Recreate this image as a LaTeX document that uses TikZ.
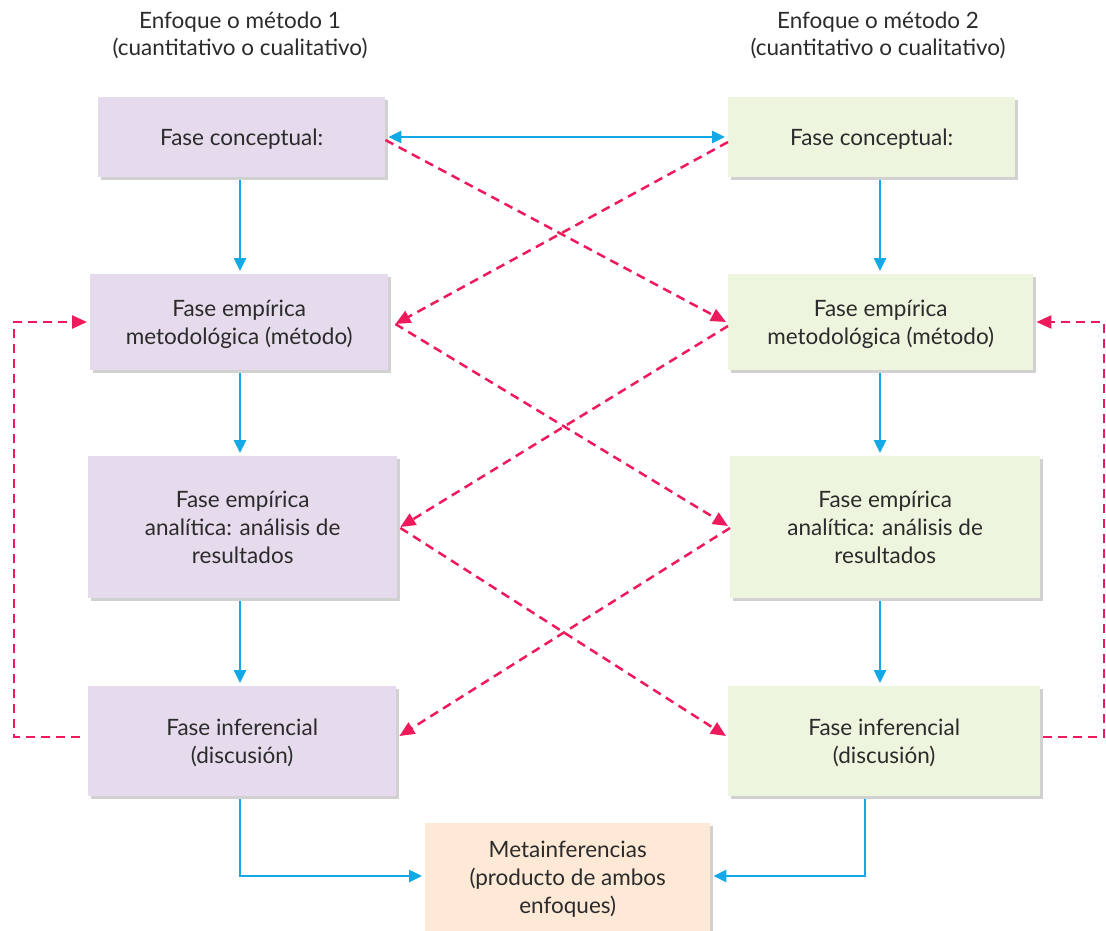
\documentclass[tikz,border=0pt]{standalone}
\usepackage{fontspec}
\setmainfont{Lato}
\usetikzlibrary{arrows.meta,shadows}
\definecolor{purp}{HTML}{E6DBEC}
\definecolor{grn}{HTML}{EEF5DE}
\definecolor{orng}{HTML}{FDE9D6}
\definecolor{blu}{HTML}{13A9E6}
\definecolor{rd}{HTML}{EE1A5C}
\definecolor{txt}{HTML}{2B2B2B}
\tikzset{
  box/.style={anchor=north west,inner sep=0pt,align=center,text=txt,
    font=\fontsize{22.5}{28}\selectfont,text depth=0pt,
    drop shadow={shadow xshift=3pt,shadow yshift=-3pt,opacity=0.3,fill=black!60}},
  hdr/.style={align=center,text=txt,font=\fontsize{22.5}{27}\selectfont},
  bl/.style={draw=blu,line width=2.5pt,-{Triangle[length=13pt,width=12pt]}},
  bl2/.style={draw=blu,line width=2.5pt,{Triangle[length=13pt,width=12pt]}-{Triangle[length=13pt,width=12pt]}},
  rdd/.style={draw=rd,line width=2.5pt,dash pattern=on 9pt off 6pt,-{Triangle[length=15pt,width=13pt]}},
}
\begin{document}
\begin{tikzpicture}[x=1pt,y=-1pt]
\useasboundingbox (0,0) rectangle (1106,931);
% headers
\node[hdr] (h1) at (240,35) {Enfoque o método 1\\(cuantitativo o cualitativo)};
\node[hdr] (h2) at (878,35) {Enfoque o método 2\\(cuantitativo o cualitativo)};
% left boxes
\node[box,fill=purp,minimum width=287pt,minimum height=80pt] (L1) at (98,97) {Fase conceptual:};
\node[box,fill=purp,minimum width=298pt,minimum height=96pt] (L2) at (90,274) {Fase empírica\\metodológica (método)};
\node[box,fill=purp,minimum width=309pt,minimum height=142pt] (L3) at (88,456) {Fase empírica\\analítica: análisis de\\resultados};
\node[box,fill=purp,minimum width=308pt,minimum height=110pt] (L4) at (88,686) {Fase inferencial\\(discusión)};
% right boxes
\node[box,fill=grn,minimum width=287pt,minimum height=80pt] (R1) at (728,97) {Fase conceptual:};
\node[box,fill=grn,minimum width=305pt,minimum height=96pt] (R2) at (728,274) {Fase empírica\\metodológica (método)};
\node[box,fill=grn,minimum width=310pt,minimum height=142pt] (R3) at (730,456) {Fase empírica\\analítica: análisis de\\resultados};
\node[box,fill=grn,minimum width=312pt,minimum height=110pt] (R4) at (728,686) {Fase inferencial\\(discusión)};
% bottom
\node[box,fill=orng,minimum width=285pt,minimum height=115pt] (M) at (425,823) {};
\node[hdr,anchor=north,font=\fontsize{22.5}{28}\selectfont] (Mt) at (M.north) [yshift=-15pt] {Metainferencias\\(producto de ambos\\enfoques)};
% blue vertical arrows
\draw[bl] ([yshift=-3pt]L1.south -| 240,0) -- ([yshift=3pt]L2.north -| 240,0);
\draw[bl] ([yshift=-3pt]L2.south -| 240,0) -- ([yshift=3pt]L3.north -| 240,0);
\draw[bl] ([yshift=-3pt]L3.south -| 240,0) -- ([yshift=3pt]L4.north -| 240,0);
\draw[bl] ([yshift=-3pt]R1.south -| 880,0) -- ([yshift=3pt]R2.north -| 880,0);
\draw[bl] ([yshift=-3pt]R2.south -| 880,0) -- ([yshift=3pt]R3.north -| 880,0);
\draw[bl] ([yshift=-3pt]R3.south -| 880,0) -- ([yshift=3pt]R4.north -| 880,0);
% double arrow
\draw[bl2] ([xshift=3pt]L1.east |- 0,137) -- ([xshift=-3pt]R1.west |- 0,137);
% bottom connectors
\draw[bl] ([yshift=-3pt]L4.south -| 240,0) |- ([xshift=-3pt]M.west |- 0,876);
\draw[bl] ([yshift=-3pt]R4.south -| 865,0) |- ([xshift=3pt]M.east |- 0,876);
% red dashed crosses
\draw[rdd] (L1.east |- 0,140) -- ([xshift=-2pt]R2.west |- 0,322);
\draw[rdd] (R1.west |- 0,142) -- ([xshift=7pt]L2.east |- 0,324);
\draw[rdd] ([xshift=7pt]L2.east |- 0,324) -- ([xshift=-2pt]R3.west |- 0,526);
\draw[rdd] (R2.west |- 0,326) -- ([xshift=3pt]L3.east |- 0,527);
\draw[rdd] ([xshift=3pt]L3.east |- 0,528) -- ([xshift=-2pt]R4.west |- 0,736);
\draw[rdd] (R3.west |- 0,528) -- ([xshift=3pt]L4.east |- 0,736);
% side loops
\coordinate (la) at (14,737);
\coordinate (ra) at (1104,737);
\draw[rdd] ([xshift=-8pt]L4.west |- 0,737) -- (la) -- (la |- 0,322) -- ([xshift=-3pt]L2.west |- 0,322);
\draw[rdd] ([xshift=3pt]R4.east |- 0,737) -- (ra) -- (ra |- 0,322) -- ([xshift=3pt]R2.east |- 0,322);
\end{tikzpicture}
\end{document}
